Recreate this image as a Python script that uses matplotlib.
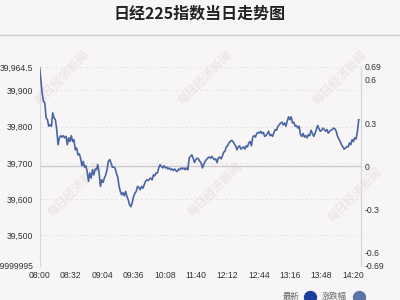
import matplotlib
matplotlib.use("Agg")
import matplotlib.pyplot as plt
from matplotlib.lines import Line2D
import numpy as np

plt.rcParams['font.family'] = ['Noto Sans CJK SC', 'DejaVu Sans']

title = "日经225指数当日走势图"
time_labels = ["08:00", "08:32", "09:04", "09:36", "10:08", "11:40",
               "12:12", "12:44", "13:16", "13:48", "14:20"]
last_time = "14:26"
prev_close = 39690.6
price_high = 39964.5
price_ticks = [39500, 39600, 39700, 39800, 39900]
pct_ticks = [-0.69, -0.6, -0.3, 0, 0.3, 0.6, 0.69]
pct_labels = ["-0.69", "-0.6", "-0.3", "0", "0.3", "0.6", "0.69"]
bottom_label = "39,416.9999995"

# index value, 08:00 -> 14:26, roughly every 1.35 trading minutes
prices = [
    39964, 39930, 39893, 39870, 39865, 39824, 39819, 39801, 39805, 39801,
    39838, 39824, 39819, 39792, 39750, 39769, 39775, 39771, 39775, 39769,
    39773, 39750, 39769, 39759, 39775, 39759, 39764, 39736, 39741, 39722,
    39725, 39713, 39692, 39704, 39688, 39692, 39676, 39649, 39672, 39658,
    39681, 39667, 39683, 39681, 39695, 39672, 39635, 39653, 39646, 39658,
    39667, 39681, 39704, 39709, 39700, 39688, 39688, 39686, 39672, 39662,
    39637, 39621, 39612, 39618, 39609, 39621, 39607, 39598, 39584, 39579,
    39590, 39607, 39616, 39621, 39635, 39632, 39626, 39635, 39630, 39639,
    39649, 39653, 39651, 39655, 39658, 39653, 39667, 39664, 39672, 39672,
    39686, 39695, 39690, 39686, 39692, 39686, 39688, 39683, 39686, 39681,
    39683, 39679, 39683, 39678, 39676, 39683, 39681, 39686, 39683, 39686,
    39681, 39686, 39681, 39713, 39718, 39722, 39713, 39701, 39709, 39713,
    39711, 39704, 39700, 39686, 39695, 39704, 39709, 39713, 39716, 39713,
    39718, 39713, 39709, 39711, 39701, 39713, 39716, 39711, 39718, 39729,
    39732, 39744, 39747, 39755, 39759, 39762, 39759, 39753, 39747, 39736,
    39744, 39747, 39738, 39741, 39744, 39738, 39747, 39744, 39755, 39759,
    39747, 39771, 39775, 39771, 39781, 39784, 39782, 39787, 39781, 39784,
    39773, 39775, 39781, 39787, 39775, 39778, 39773, 39784, 39792, 39790,
    39801, 39805, 39810, 39812, 39805, 39810, 39801, 39815, 39827, 39819,
    39827, 39810, 39812, 39801, 39803, 39796, 39801, 39778, 39773, 39781,
    39771, 39775, 39769, 39778, 39775, 39790, 39781, 39773, 39781, 39792,
    39803, 39794, 39787, 39790, 39796, 39792, 39787, 39792, 39782, 39787,
    39790, 39792, 39796, 39794, 39787, 39773, 39766, 39759, 39750, 39744,
    39738, 39741, 39745, 39744, 39755, 39750, 39764, 39759, 39769, 39766,
    39787, 39819,
]


def trade_minute(hhmm):
    # minutes since 08:00, skipping the 10:30-11:30 break
    h, m = hhmm.split(":")
    t = (int(h) - 8) * 60 + int(m)
    if t >= 210:
        t -= 60
    return t


bg = '#f8f5f7'
line_c = '#4a66a2'
grid_c = '#e4e1e3'

fig = plt.figure(figsize=(4, 3), dpi=100, facecolor=bg)
W, H = 400.0, 300.0

fig.text(0.5, 1 - 14 / H, title, ha='center', va='center',
         fontsize=11.5, fontweight='bold', color='#222222')
fig.add_artist(Line2D([0, 1], [1 - 35 / H, 1 - 35 / H], color='#cccccc',
                      lw=1, transform=fig.transFigure))

# watermark
for cx, cy in [(62, 78), (205, 78), (340, 78), (75, 190), (215, 190), (355, 195)]:
    fig.text(cx / W, 1 - cy / H, "每日经济新闻", rotation=45, ha='center',
             va='center', fontsize=8.5, fontweight='bold', color='#ebe7e9',
             zorder=-1)

ax = fig.add_axes([39.5 / W, 1 - 265.5 / H, 321.2 / W, 198.5 / H])
ax.set_facecolor('none')

price_low = 2 * prev_close - price_high
x = np.linspace(0, trade_minute(last_time), len(prices))
ax.plot(x, prices, color=line_c, lw=1.2, zorder=3)

ax.set_xlim(0, 328)
ax.set_ylim(price_low, price_high)

for v in price_ticks + [price_low, price_high]:
    ax.axhline(v, color=grid_c, lw=0.6, ls=(0, (3, 3)), zorder=1)
ax.axhline(prev_close, color='#cdcbcd', lw=1, zorder=2)

ax.set_yticks([price_low] + price_ticks + [price_high])
ax.set_yticklabels([bottom_label] + [f"{v:,}" for v in price_ticks] + [f"{price_high:,}"],
                   family='Liberation Sans')
ax.set_xticks([trade_minute(t) for t in time_labels])
ax.set_xticklabels(time_labels, family='Liberation Sans')
ax.tick_params(axis='both', length=0, labelsize=6.2, colors='#333333')
ax.tick_params(axis='y', pad=4.5)
ax.tick_params(axis='x', pad=4)

for s in ['top', 'bottom']:
    ax.spines[s].set_visible(False)
for s in ['left', 'right']:
    ax.spines[s].set_color('#d8d6d8')
    ax.spines[s].set_linewidth(0.8)

ax2 = ax.twinx()
ax2.set_ylim(-0.69, 0.69)
ax2.set_yticks(pct_ticks)
ax2.set_yticklabels(pct_labels, family='Liberation Sans')
ax2.tick_params(axis='y', length=0, labelsize=6.2, colors='#333333', pad=3)
for s in ['top', 'bottom', 'left']:
    ax2.spines[s].set_visible(False)
ax2.spines['right'].set_color('#d8d6d8')
ax2.spines['right'].set_linewidth(0.8)

# legend at bottom right
legend_items = [("最新", '#1c3f9e', 299, 309.5), ("涨跌幅", '#5b74a8', 347, 358.5)]
for name, col, tx, cx in legend_items:
    fig.text(tx / W, 1 - 297 / H, name, ha='right', va='center',
             fontsize=6, color='#666666')
    fig.add_artist(Line2D([cx / W], [1 - 297 / H], marker='o', markersize=8.6,
                          color=col, ls='none', transform=fig.transFigure))

fig.savefig("out.png", dpi=100, facecolor=bg)
